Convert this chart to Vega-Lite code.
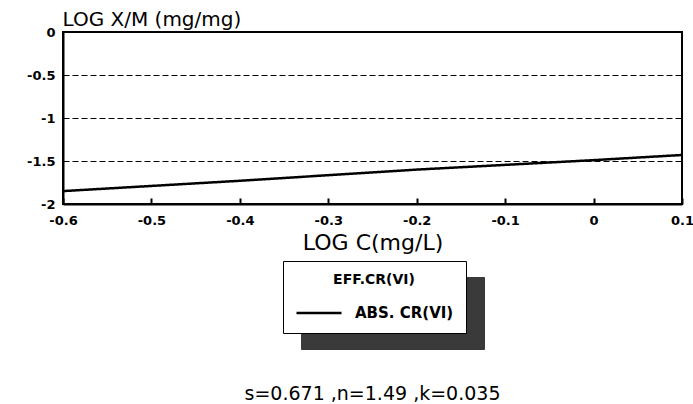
{
  "$schema": "https://vega.github.io/schema/vega-lite/v6.json",
  "width": 619,
  "height": 172,
  "autosize": {"type": "none"},
  "padding": {"left": 63, "top": 32, "right": 11, "bottom": 200},
  "background": "white",
  "config": {
    "view": {"stroke": "black", "strokeWidth": 2},
    "font": "DejaVu Sans"
  },
  "title": {
    "text": "s=0.671 ,n=1.49 ,k=0.035",
    "orient": "bottom",
    "anchor": "middle",
    "offset": 35,
    "font": "DejaVu Sans",
    "fontSize": 19,
    "fontWeight": "normal",
    "color": "black"
  },
  "data": {
    "values": [
      {"logC": -0.6, "logXM": -1.85},
      {"logC": -0.4, "logXM": -1.73},
      {"logC": -0.2, "logXM": -1.6},
      {"logC": 0, "logXM": -1.49},
      {"logC": 0.1, "logXM": -1.43}
    ]
  },
  "mark": {"type": "line", "strokeWidth": 2.5, "clip": true},
  "encoding": {
    "x": {
      "field": "logC",
      "type": "quantitative",
      "scale": {"domain": [-0.6, 0.1], "nice": false, "zero": false},
      "axis": {
        "title": "LOG C(mg/L)",
        "titleFont": "DejaVu Sans",
        "titleFontSize": 22,
        "titleFontWeight": "normal",
        "titlePadding": 5,
        "titleColor": "black",
        "values": [-0.6, -0.5, -0.4, -0.3, -0.2, -0.1, 0, 0.1],
        "labelExpr": "'' + datum.value",
        "labelFont": "DejaVu Sans",
        "labelFontSize": 13,
        "labelFontWeight": "bold",
        "labelColor": "black",
        "labelFlush": false,
        "labelPadding": 16,
        "tickSize": -6,
        "tickColor": "black",
        "tickWidth": 2,
        "domainColor": "black",
        "domainWidth": 2,
        "grid": false
      }
    },
    "y": {
      "field": "logXM",
      "type": "quantitative",
      "scale": {"domain": [-2, 0], "nice": false, "zero": false},
      "axis": {
        "title": "LOG X/M (mg/mg)",
        "titleFont": "DejaVu Sans",
        "titleAngle": 0,
        "titleAlign": "left",
        "titleBaseline": "alphabetic",
        "titleX": -1,
        "titleY": -7,
        "titleFontSize": 20,
        "titleFontWeight": "normal",
        "titleColor": "black",
        "values": [0, -0.5, -1, -1.5, -2],
        "labelExpr": "'' + datum.value",
        "labelFont": "DejaVu Sans",
        "labelFontSize": 13,
        "labelFontWeight": "bold",
        "labelColor": "black",
        "labelPadding": 8,
        "tickSize": 0,
        "domainColor": "black",
        "domainWidth": 2,
        "grid": true,
        "gridColor": "black",
        "gridDash": [6, 3],
        "gridWidth": 1
      }
    },
    "color": {
      "datum": "shadow",
      "type": "nominal",
      "scale": {"range": ["black"]},
      "legend": {
        "title": "EFF.CR(VI)",
        "orient": "none",
        "legendX": 238,
        "legendY": 245,
        "direction": "vertical",
        "padding": 12,
        "strokeColor": "#3a3a3a",
        "fillColor": "#3a3a3a",
        "titleAnchor": "middle",
        "titleFont": "DejaVu Sans",
        "titleFontSize": 14,
        "titleFontWeight": "bold",
        "titleColor": "#3a3a3a",
        "titlePadding": 2,
        "labelExpr": "'ABS. CR(VI)'",
        "labelFont": "DejaVu Sans",
        "labelFontSize": 15,
        "labelFontWeight": "bold",
        "labelColor": "#3a3a3a",
        "labelOffset": 12,
        "symbolType": "stroke",
        "symbolStrokeWidth": 2.5,
        "symbolSize": 2025,
        "symbolStrokeColor": "#3a3a3a"
      }
    },
    "strokeDash": {
      "datum": "ABS. CR(VI)",
      "type": "nominal",
      "scale": {"range": [[1, 0]]},
      "legend": {
        "title": "EFF.CR(VI)",
        "orient": "none",
        "legendX": 220,
        "legendY": 229,
        "direction": "vertical",
        "padding": 12,
        "strokeColor": "black",
        "fillColor": "white",
        "titleAnchor": "middle",
        "titleFont": "DejaVu Sans",
        "titleFontSize": 14,
        "titleFontWeight": "bold",
        "titleColor": "black",
        "titlePadding": 2,
        "labelFont": "DejaVu Sans",
        "labelFontSize": 15,
        "labelFontWeight": "bold",
        "labelColor": "black",
        "labelOffset": 12,
        "symbolType": "stroke",
        "symbolStrokeWidth": 2.5,
        "symbolSize": 2025,
        "symbolStrokeColor": "black"
      }
    }
  }
}
